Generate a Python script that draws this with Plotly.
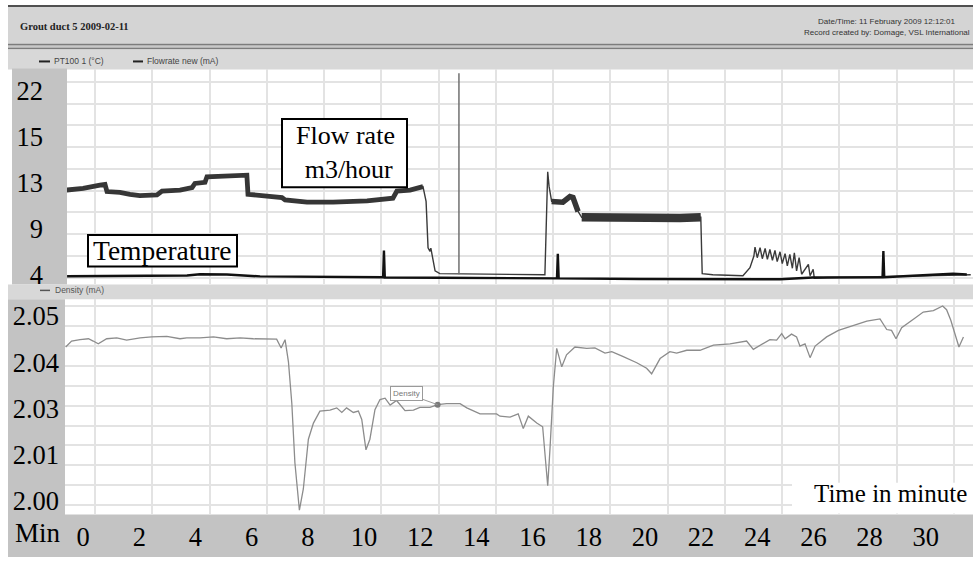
import plotly.graph_objects as go

W, H = 973, 562

# ---------------- data ----------------
# Flow rate signal (top panel), minutes vs. signal value (mA scale of the recorder)
FLOW_MIN = [-0.58, 0.00, 0.60, 0.78, 0.85, 1.31, 1.67, 2.02, 2.63, 2.81, 3.45, 3.88, 3.98,
            4.34, 4.41, 5.34, 5.83, 5.87, 6.55, 7.08, 7.19, 7.97, 8.90, 10.11, 11.03, 11.17,
            11.64, 12.10, 12.21, 12.28, 12.35, 12.38, 12.42, 12.53, 12.70, 14.13, 16.44,
            16.54, 16.59, 16.68, 17.08, 17.33, 17.44, 17.62, 17.75, 18.86, 20.07, 21.25,
            21.99, 22.04, 22.42, 23.49, 23.74, 23.88,
            23.92, 24.00, 24.10, 24.18, 24.28, 24.36, 24.45, 24.54, 24.63, 24.71, 24.81,
            24.89, 24.99, 25.07, 25.16, 25.25, 25.32, 25.40, 25.49, 25.58, 25.82, 25.88,
            25.99, 26.03, 26.50, 28.00, 30.00, 31.60]
FLOW_VAL = [12.05, 12.21, 12.51, 12.57, 11.91, 11.84, 11.66, 11.54, 11.60, 11.96, 12.05, 12.27, 12.66,
            12.76, 13.27, 13.37, 13.42, 11.66, 11.45, 11.36, 11.14, 10.93, 10.93, 11.05, 11.30, 11.96,
            12.05, 12.36, 11.00, 6.74, 6.40, 6.70, 6.12, 4.61, 4.36, 4.30, 4.25,
            13.73, 12.36, 11.00, 10.93, 11.45, 11.36, 10.08, 9.54, 9.47, 9.47, 9.47,
            9.54, 4.36, 4.25, 4.16, 4.91, 5.98,
            6.80, 5.82, 6.74, 5.73, 6.67, 5.67, 6.58, 5.58, 6.49, 5.46, 6.37,
            5.28, 6.19, 5.07, 6.12, 4.85, 6.28, 4.61, 5.82, 4.30, 5.21, 4.16,
            4.76, 3.94, 4.00, 4.05, 4.15, 4.25]

# PT100 temperature signal (top panel)
TEMP_MIN = [-0.57, 1.31, 3.70, 4.16, 5.12, 6.30, 7.72, 10.68, 10.71, 10.74, 12.70, 14.13,
            16.87, 16.90, 16.93, 19.83, 21.96, 23.99, 24.81, 25.98, 27.30, 28.46, 28.49,
            28.52, 29.54, 30.51, 30.97, 31.46]
TEMP_VAL = [4.12, 4.14, 4.18, 4.30, 4.28, 4.10, 4.06, 4.02, 6.49, 4.00, 3.98, 3.94,
            3.92, 6.19, 3.92, 3.86, 3.85, 3.80, 3.84, 4.00, 4.00, 4.02, 6.43,
            4.02, 4.16, 4.25, 4.35, 4.28]

# Density signal (bottom panel)
DENS_MIN = [-0.62, -0.41, -0.11, 0.19, 0.36, 0.54, 0.84, 1.20, 1.55, 2.03, 2.44, 2.98, 3.45,
            3.69, 4.16, 4.64, 5.11, 5.59, 6.06, 6.54, 6.89, 7.05, 7.19, 7.31, 7.43, 7.54,
            7.70, 7.84, 8.02, 8.20, 8.43, 8.79, 9.03, 9.21, 9.38, 9.62, 9.80, 9.92, 10.07,
            10.21, 10.39, 10.57, 10.75, 10.93, 11.16, 11.46, 11.76, 11.99, 12.35, 12.62,
            12.94, 13.42, 13.66, 14.13, 14.72, 14.84, 15.20, 15.49, 15.67, 15.85, 16.15,
            16.36, 16.54, 16.62, 16.74, 16.86, 17.04, 17.21, 17.51, 17.93, 18.22, 18.58,
            18.82, 19.23, 19.71, 20.06, 20.24, 20.54, 20.89, 21.13, 21.49, 21.96, 22.44,
            23.03, 23.62, 23.86, 24.22, 24.45, 24.69, 24.87, 24.99, 25.22, 25.40, 25.52,
            25.70, 25.88, 26.06, 26.47, 26.89, 27.42, 27.90, 28.37, 28.61, 28.78, 28.94,
            29.14, 29.44, 29.62, 29.91, 30.27, 30.60, 30.74, 30.89, 31.04, 31.18, 31.34]
DENS_VAL = [2.0433, 2.0446, 2.0449, 2.0451, 2.0446, 2.0440, 2.0451, 2.0453, 2.0448, 2.0453,
            2.0455, 2.0456, 2.0451, 2.0453, 2.0453, 2.0455, 2.0451, 2.0453, 2.0451, 2.0450,
            2.0450, 2.0431, 2.0449, 2.0401, 2.0311, 2.0182, 2.0079, 2.0125, 2.0233, 2.0268,
            2.0294, 2.0296, 2.0301, 2.0291, 2.0301, 2.0291, 2.0294, 2.0276, 2.0210, 2.0233,
            2.0297, 2.0319, 2.0322, 2.0307, 2.0317, 2.0295, 2.0296, 2.0302, 2.0302, 2.0308,
            2.0310, 2.0310, 2.0301, 2.0288, 2.0288, 2.0283, 2.0281, 2.0288, 2.0256, 2.0283,
            2.0268, 2.0260, 2.0132, 2.0211, 2.0347, 2.0430, 2.0390, 2.0416, 2.0433, 2.0430,
            2.0431, 2.0420, 2.0423, 2.0412, 2.0399, 2.0387, 2.0375, 2.0408, 2.0423, 2.0420,
            2.0426, 2.0426, 2.0437, 2.0440, 2.0446, 2.0428, 2.0440, 2.0449, 2.0448, 2.0462,
            2.0451, 2.0461, 2.0455, 2.0435, 2.0440, 2.0410, 2.0435, 2.0455, 2.0469, 2.0480,
            2.0489, 2.0494, 2.0471, 2.0469, 2.0451, 2.0475, 2.0487, 2.0496, 2.0509, 2.0512,
            2.0522, 2.0514, 2.0491, 2.0459, 2.0433, 2.0455]

CURSOR_MIN = 13.38            # vertical cursor line in the top panel
CURSOR_SPAN = [4.30, 22.79]
DENS_MARK_MIN = 12.62         # point labelled by the "Density" tooltip

MINUTE_TICKS = list(range(0, 31, 2))
TOP_TICK_TEXT = ["4", "9", "13", "15", "22"]
BOT_TICK_TEXT = ["2.00", "2.01", "2.03", "2.04", "2.05"]

# ---------------- geometry / style (page pixels) ----------------
X0_PX, PX_PER_MIN = 83.1, 28.09          # where minute 0 sits, scale
TOP_L, TOP_T, TOP_B = 67, 70, 287
BOT_L, BOT_T, BOT_B = 65, 302, 519
GRID_COL = "#e3e3e3"
SERIF = "Liberation Serif"
SANS = "Liberation Sans"


def fx(px):
    return px / W


def fy(py):
    return 1 - py / H


def px2min(px):
    return (px - X0_PX) / PX_PER_MIN


def top_v(py):
    return 4 + (280 - py) / 10.965


def bot_v(py):
    return 2.05 - (py - 319) / 4650.0


x_hi = px2min(W)
top_xr = [px2min(TOP_L), x_hi]
bot_xr = [px2min(BOT_L), x_hi]
grid_x0 = px2min(95)
grid_dx = 57.25 / PX_PER_MIN

fig = go.Figure()

# flow: thin base line
fig.add_trace(go.Scatter(x=FLOW_MIN, y=FLOW_VAL, mode="lines", xaxis="x", yaxis="y",
                         line=dict(color="#3a3a3a", width=1.4), hoverinfo="skip",
                         showlegend=False))
# noisy (thick) parts of the flow recording
for lo, hi, wdt in [(-1.0, 12.10, 4.8), (16.66, 17.63, 5.5), (17.74, 22.0, 8.5)]:
    xs = [m for m in FLOW_MIN if lo <= m <= hi]
    ys = [v for m, v in zip(FLOW_MIN, FLOW_VAL) if lo <= m <= hi]
    fig.add_trace(go.Scatter(x=xs, y=ys, mode="lines", xaxis="x", yaxis="y",
                             line=dict(color="#363636", width=wdt), hoverinfo="skip",
                             showlegend=False))
# temperature
fig.add_trace(go.Scatter(x=TEMP_MIN, y=TEMP_VAL, mode="lines", xaxis="x", yaxis="y",
                         line=dict(color="#111111", width=2.4), hoverinfo="skip",
                         showlegend=False))
# cursor
fig.add_trace(go.Scatter(x=[CURSOR_MIN, CURSOR_MIN], y=CURSOR_SPAN, mode="lines",
                         xaxis="x", yaxis="y", line=dict(color="#707070", width=1.5),
                         hoverinfo="skip", showlegend=False))
# density
fig.add_trace(go.Scatter(x=DENS_MIN, y=DENS_VAL, mode="lines", xaxis="x2", yaxis="y2",
                         line=dict(color="#8c8c8c", width=1.3), hoverinfo="skip",
                         showlegend=False))
mark_i = DENS_MIN.index(DENS_MARK_MIN)
fig.add_trace(go.Scatter(x=[DENS_MIN[mark_i]], y=[DENS_VAL[mark_i]], mode="markers",
                         xaxis="x2", yaxis="y2", marker=dict(color="#7a7a7a", size=6),
                         hoverinfo="skip", showlegend=False))
# invisible carriers for the label axes
fig.add_trace(go.Scatter(x=[None], y=[None], xaxis="x", yaxis="y3", showlegend=False))
fig.add_trace(go.Scatter(x=[None], y=[None], xaxis="x2", yaxis="y4", showlegend=False))
fig.add_trace(go.Scatter(x=[None], y=[None], xaxis="x3", yaxis="y2", showlegend=False))

grid_axis = dict(showgrid=True, gridcolor=GRID_COL, gridwidth=2, zeroline=False,
                 showticklabels=False, ticks="", showline=False, fixedrange=True)
label_font = dict(family=SERIF, size=26.5, color="#000000")

top_idx_range = [(276.7 - TOP_B) / 46.25, (276.7 - TOP_T) / 46.25]
bot_idx_range = [(505 - BOT_B) / 46.5, (505 - BOT_T) / 46.5]

fig.update_layout(
    width=W, height=H, autosize=False,
    margin=dict(l=0, r=0, t=0, b=0),
    paper_bgcolor="white", plot_bgcolor="white",
    showlegend=False,
    xaxis=dict(grid_axis, domain=[fx(TOP_L), 1], range=top_xr, anchor="y",
               tickmode="linear", tick0=grid_x0, dtick=grid_dx),
    yaxis=dict(grid_axis, domain=[fy(TOP_B), fy(TOP_T)], anchor="x",
               range=[top_v(TOP_B), top_v(TOP_T)], tickmode="linear", tick0=4, dtick=2),
    yaxis3=dict(overlaying="y", anchor="x", side="left", range=top_idx_range,
                tickmode="array", tickvals=list(range(len(TOP_TICK_TEXT))),
                ticktext=TOP_TICK_TEXT, showgrid=False, zeroline=False, ticks="",
                ticklabelstandoff=23, tickfont=label_font, fixedrange=True),
    xaxis2=dict(grid_axis, domain=[fx(BOT_L), 1], range=bot_xr, anchor="y2",
                tickmode="linear", tick0=grid_x0, dtick=grid_dx),
    yaxis2=dict(grid_axis, domain=[fy(BOT_B), fy(BOT_T)], anchor="x2",
                range=[bot_v(BOT_B), bot_v(BOT_T)], tickmode="linear",
                tick0=bot_v(510), dtick=20.17 / 4650.0),
    yaxis4=dict(overlaying="y2", anchor="x2", side="left", range=bot_idx_range,
                tickmode="array", tickvals=list(range(len(BOT_TICK_TEXT))),
                ticktext=BOT_TICK_TEXT, showgrid=False, zeroline=False, ticks="",
                ticklabelstandoff=5, tickfont=label_font, fixedrange=True),
    xaxis3=dict(overlaying="x2", anchor="y2", side="bottom", range=bot_xr,
                tickmode="array", tickvals=MINUTE_TICKS,
                ticktext=[str(m) for m in MINUTE_TICKS], showgrid=False,
                zeroline=False, ticks="", ticklabelstandoff=4, tickfont=label_font,
                fixedrange=True),
)


def rect(x0, y0, x1, y1, fill, line_col=None, lw=0, layer="below"):
    return dict(type="rect", xref="paper", yref="paper", x0=fx(x0), x1=fx(x1),
                y0=fy(y1), y1=fy(y0), fillcolor=fill, layer=layer,
                line=dict(color=line_col or fill, width=lw))


def hline(x0, x1, py, col, lw, layer="below"):
    return dict(type="line", xref="paper", yref="paper", x0=fx(x0), x1=fx(x1),
                y0=fy(py), y1=fy(py), line=dict(color=col, width=lw), layer=layer)


shapes = [
    rect(8, 7, W, 44, "#d4d4d4"),
    hline(8, W, 6, "#505050", 2),
    rect(8, 44, W, 50, "#c8c8c8"),
    hline(8, W, 45, "#7c7c7c", 1.5),
    hline(8, W, 49, "#7c7c7c", 1.5),
    rect(8, 50, W, TOP_T, "#d8d8d8"),
    rect(12, TOP_T - 1, TOP_L, TOP_B, "#c3c3c3"),
    rect(8, TOP_B, W, BOT_T, "#d8d8d8"),
    rect(8, BOT_T, BOT_L, H, "#c3c3c3"),
    rect(8, BOT_B, W, H, "#c3c3c3"),
    # legend samples
    hline(39, 50, 62, "#222222", 2),
    hline(133, 143, 62, "#222222", 2),
    hline(40, 50, 293, "#555555", 1.5),
    # annotation boxes
    rect(282, 120, 407, 189, "white", "black", 2, layer="above"),
    rect(88, 237, 237, 269, "white", "black", 2, layer="above"),
    rect(792, 487, W + 2, BOT_B - 1, "white", layer="above"),
]
fig.update_layout(shapes=shapes)


def txt(x, y, s, size, family=SANS, color="#222222", xanchor="center", **kw):
    return dict(xref="paper", yref="paper", x=fx(x), y=fy(y), text=s, showarrow=False,
                xanchor=xanchor, yanchor="middle",
                font=dict(family=family, size=size, color=color), **kw)


annotations = [
    txt(18, 27, "<b>Grout duct 5 2009-02-11</b>", 10.5, family=SERIF, xanchor="left"),
    txt(887, 22, "Date/Time: 11 February 2009 12:12:01", 8, color="#333333"),
    txt(887, 33, "Record created by: Domage, VSL International", 8, color="#333333"),
    txt(52, 62, "PT100 1 (°C)", 8.5, color="#444444", xanchor="left"),
    txt(145, 62, "Flowrate new (mA)", 8.5, color="#444444", xanchor="left"),
    txt(53, 293, "Density (mA)", 8.5, color="#555555", xanchor="left"),
    txt(345, 154, "Flow rate<br> m3/hour", 26, family=SERIF, color="#000000"),
    txt(162, 253, "Temperature", 27.5, family=SERIF, color="#000000"),
    txt(38, 538, "Min", 27, family=SERIF, color="#000000"),
    txt(812, 498, "Time in minute", 25, family=SERIF, color="#000000", xanchor="left"),
    dict(xref="x2", yref="y2", x=DENS_MIN[mark_i], y=DENS_VAL[mark_i], text="Density",
         showarrow=True, arrowhead=0, arrowwidth=1, arrowcolor="#9a9a9a", ax=-31, ay=-11,
         font=dict(family=SANS, size=8, color="#777777"), bgcolor="white",
         bordercolor="#9a9a9a", borderwidth=1, borderpad=2),
]
fig.update_layout(annotations=annotations)

# place the figure at the page's top-left corner (no default body margin)
fig.write_html("out.html",
               config={"displayModeBar": False, "staticPlot": True},
               post_script="document.body.style.margin='0';"
                           "document.body.style.overflow='hidden';")
